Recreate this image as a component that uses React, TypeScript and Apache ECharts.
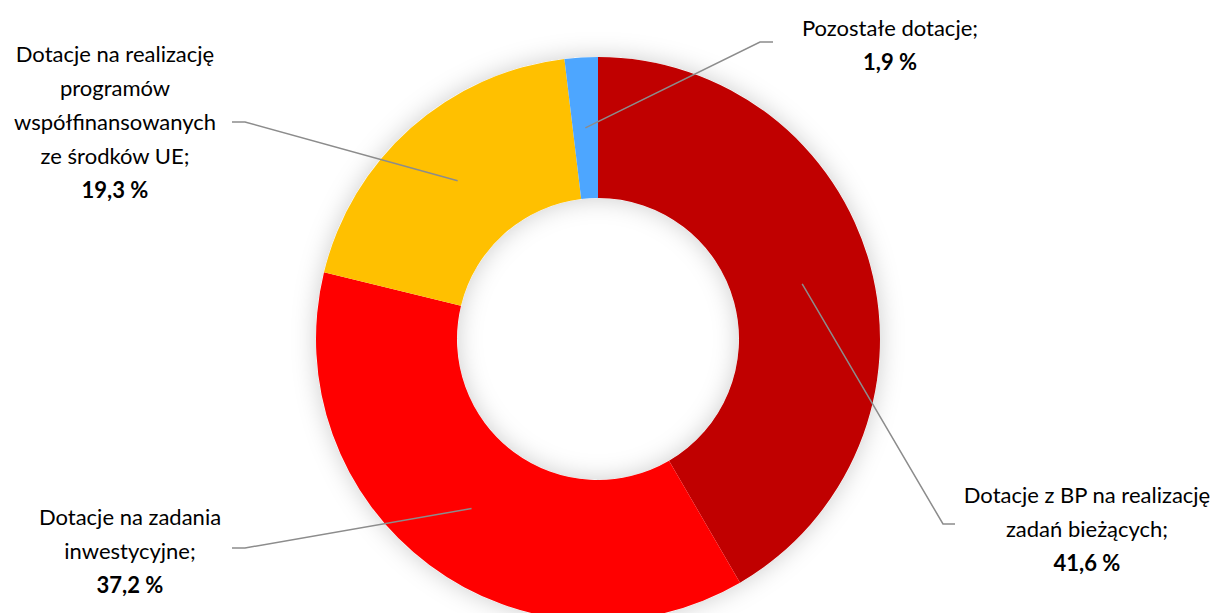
import React, { useEffect, useRef } from "react";
import * as echarts from "echarts";

const categories = [
  "Dotacje z BP na realizację\nzadań bieżących;",
  "Dotacje na zadania\ninwestycyjne;",
  "Dotacje na realizację\nprogramów\nwspółfinansowanych\nze środków UE;",
  "Pozostałe dotacje;",
];
const values = [41.6, 37.2, 19.3, 1.9];
const valueLabels = ["41,6 %", "37,2 %", "19,3 %", "1,9 %"];
const colors = ["#C00000", "#FF0000", "#FFC000", "#4DA6FF"];

// label placement (pixels): text centre, and elbow/end of leader line
const labelPos = [
  { x: 1087, y: 528, bend: [943, 524], end: [955, 524] },
  { x: 130, y: 550, bend: [245, 548], end: [232, 548] },
  { x: 115, y: 121, bend: [245, 122], end: [232, 122] },
  { x: 890, y: 44, bend: [760, 42], end: [773, 42] },
];

const CX = 598;
const CY = 339;
const R0 = 141;
const R1 = 282;

export default function App() {
  const ref = useRef<HTMLDivElement>(null);
  useEffect(() => {
    if (!ref.current) return;
    const chart = echarts.init(ref.current, undefined, { renderer: "svg" });
    const total = values.reduce((a, b) => a + b, 0);
    const mids: number[] = [];
    let acc = 0;
    values.forEach((v) => {
      mids.push(((acc + v / 2) / total) * Math.PI * 2);
      acc += v;
    });
    const rMid = (R0 + R1) / 2;
    chart.setOption({
      animation: false,
      backgroundColor: "#ffffff",
      series: [
        {
          type: "pie",
          center: [CX, CY],
          radius: [R0, R1],
          silent: true,
          z: 1,
          data: [{ value: 1, name: "shadow" }],
          itemStyle: {
            color: "#ffffff",
            borderWidth: 0,
            shadowBlur: 24,
            shadowColor: "rgba(0,0,0,0.2)",
          },
          label: { show: false },
          labelLine: { show: false },
        },
        {
          type: "pie",
          center: [CX, CY],
          radius: [R0, R1],
          startAngle: 90,
          clockwise: true,
          silent: true,
          z: 2,
          data: values.map((v, i) => ({
            value: v,
            name: categories[i],
            itemStyle: { color: colors[i] },
          })),
          itemStyle: { borderWidth: 0 },
          label: { show: false },
          labelLine: { show: false },
        },
        {
          type: "pie",
          center: [CX, CY],
          radius: [R0, R1],
          startAngle: 90,
          clockwise: true,
          silent: true,
          z: 5,
          data: values.map((v, i) => ({ value: v, name: categories[i] })),
          itemStyle: { color: "rgba(0,0,0,0)", borderWidth: 0 },
          label: {
            show: true,
            formatter: (p: any) => `${p.name}\n{v|${valueLabels[p.dataIndex]}}`,
            fontFamily: "Lato",
            fontSize: 22,
            lineHeight: 34,
            color: "#000",
            align: "center",
            rich: {
              v: {
                fontFamily: "Lato",
                fontSize: 22,
                fontWeight: "bold",
                lineHeight: 34,
                color: "#000",
              },
            },
          },
          labelLine: {
            show: true,
            lineStyle: { color: "#8c8c8c", width: 1.5 },
          },
          labelLayout: (params: any) => {
            const i = params.dataIndex;
            const lp = labelPos[i];
            const a = mids[i];
            const sx = CX + rMid * Math.sin(a);
            const sy = CY - rMid * Math.cos(a);
            return {
              x: lp.x,
              y: lp.y,
              align: "center",
              verticalAlign: "middle",
              labelLinePoints: [[sx, sy], lp.bend, lp.end],
            };
          },
        },
      ],
    });
    return () => chart.dispose();
  }, []);
  return (
    <div
      ref={ref}
      style={{ position: "fixed", left: 0, top: 0, width: 1216, height: 613 }}
    />
  );
}
